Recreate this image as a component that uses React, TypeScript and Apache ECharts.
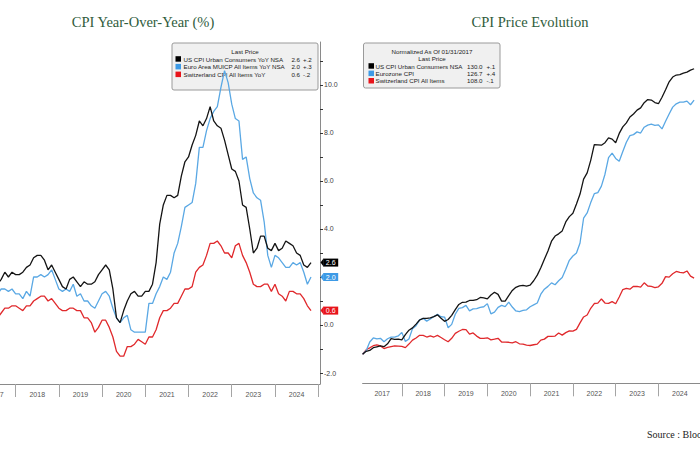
import React, { useEffect, useRef } from "react";
import * as echarts from "echarts";

// ---------- data ----------
const YEARS = ["2017", "2018", "2019", "2020", "2021", "2022", "2023", "2024"];

// Monthly YoY %, Jan 2017 .. Oct 2024
const US_YOY = [
  2.5, 2.7, 2.4, 2.2, 1.9, 1.6, 1.7, 1.9, 2.2, 2.0, 2.2, 2.1,
  2.1, 2.2, 2.4, 2.5, 2.8, 2.9, 2.9, 2.7, 2.3, 2.5, 2.2, 1.9,
  1.6, 1.5, 1.9, 2.0, 1.8, 1.6, 1.8, 1.7, 1.7, 1.8, 2.1, 2.3,
  2.5, 2.3, 1.5, 0.3, 0.1, 0.6, 1.0, 1.3, 1.4, 1.2, 1.2, 1.4,
  1.4, 1.7, 2.6, 4.2, 5.0, 5.4, 5.4, 5.3, 5.4, 6.2, 6.8, 7.0,
  7.5, 7.9, 8.5, 8.3, 8.6, 9.1, 8.5, 8.3, 8.2, 7.7, 7.1, 6.5,
  6.4, 6.0, 5.0, 4.9, 4.0, 3.0, 3.2, 3.7, 3.7, 3.2, 3.1, 3.4,
  3.1, 3.2, 3.5, 3.4, 3.3, 3.0, 2.9, 2.5, 2.4, 2.6,
];
const EU_YOY = [
  1.7, 2.0, 1.5, 1.9, 1.4, 1.3, 1.3, 1.5, 1.5, 1.4, 1.5, 1.3,
  1.3, 1.1, 1.4, 1.2, 2.0, 2.0, 2.1, 2.0, 2.1, 2.3, 1.9, 1.5,
  1.4, 1.5, 1.4, 1.7, 1.2, 1.3, 1.0, 1.0, 0.8, 0.7, 1.0, 1.3,
  1.4, 1.2, 0.7, 0.3, 0.1, 0.3, 0.4, -0.2, -0.3, -0.3, -0.3, -0.3,
  0.9, 0.9, 1.3, 1.6, 2.0, 1.9, 2.2, 3.0, 3.4, 4.1, 4.9, 5.0,
  5.1, 5.9, 7.4, 7.4, 8.1, 8.6, 8.9, 9.1, 9.9, 10.6, 10.1, 9.2,
  8.6, 8.5, 6.9, 7.0, 6.1, 5.5, 5.3, 5.2, 4.3, 2.9, 2.4, 2.9,
  2.8, 2.6, 2.4, 2.4, 2.6, 2.5, 2.6, 2.2, 1.7, 2.0,
];
const CH_YOY = [
  0.3, 0.6, 0.6, 0.4, 0.5, 0.2, 0.3, 0.5, 0.7, 0.7, 0.8, 0.8,
  0.7, 0.6, 0.8, 0.8, 1.0, 1.1, 1.2, 1.2, 1.0, 1.1, 0.9, 0.7,
  0.6, 0.6, 0.7, 0.7, 0.6, 0.6, 0.3, 0.3, 0.1, -0.3, -0.1, 0.2,
  0.2, -0.1, -0.5, -1.1, -1.3, -1.3, -0.9, -0.9, -0.8, -0.6, -0.7, -0.8,
  -0.5, -0.5, -0.2, 0.3, 0.6, 0.6, 0.7, 0.9, 0.9, 1.2, 1.5, 1.5,
  1.6, 2.2, 2.4, 2.5, 2.9, 3.4, 3.4, 3.5, 3.3, 3.0, 3.0, 2.8,
  3.3, 3.4, 2.9, 2.6, 2.2, 1.7, 1.6, 1.6, 1.7, 1.7, 1.4, 1.7,
  1.3, 1.2, 1.0, 1.4, 1.4, 1.3, 1.3, 1.1, 0.8, 0.6,
];

// Price levels normalized to 100 at 01/31/2017, Jan 2017 .. Oct 2024
const US_IDX = [
  100.0, 100.31, 100.4, 100.69, 100.78, 100.87, 100.8, 101.1, 101.64, 101.57, 101.58, 101.52,
  102.07, 102.53, 102.77, 103.17, 103.6, 103.77, 103.77, 103.83, 103.95, 104.14, 103.79, 103.46,
  103.65, 104.09, 104.68, 105.23, 105.46, 105.48, 105.65, 105.65, 105.73, 105.97, 105.92, 105.82,
  106.23, 106.52, 106.29, 105.58, 105.58, 106.16, 106.7, 107.03, 107.18, 107.23, 107.16, 107.26,
  107.72, 108.31, 109.08, 109.97, 110.85, 111.88, 112.42, 112.65, 112.96, 113.9, 114.46, 114.81,
  115.78, 116.83, 118.39, 119.05, 120.37, 122.02, 122.0, 121.96, 122.22, 122.72, 122.6, 122.22,
  123.2, 123.88, 124.3, 124.92, 125.24, 125.64, 125.88, 126.43, 126.75, 126.7, 126.44, 126.32,
  127.0, 127.79, 128.62, 129.12, 129.33, 129.38, 129.53, 129.63, 129.84, 129.99,
];
const EU_IDX = [
  100.0, 100.38, 101.29, 101.71, 101.61, 101.68, 101.32, 101.63, 101.8, 101.81, 101.92, 102.3,
  101.35, 101.6, 102.69, 103.0, 103.62, 103.77, 103.48, 103.7, 103.97, 104.19, 103.94, 103.91,
  102.78, 103.14, 104.2, 104.82, 104.9, 105.13, 104.56, 104.76, 104.79, 104.92, 104.99, 105.32,
  104.25, 104.43, 104.93, 105.13, 105.0, 105.47, 104.96, 104.55, 104.47, 104.6, 104.67, 104.99,
  105.19, 105.38, 106.31, 106.84, 107.13, 107.5, 107.3, 107.72, 108.07, 108.94, 109.87, 110.32,
  110.63, 111.69, 114.29, 114.84, 115.93, 116.87, 116.98, 117.66, 118.91, 120.65, 121.12, 120.57,
  120.27, 121.29, 122.27, 122.97, 123.07, 123.36, 123.24, 123.85, 124.07, 124.17, 124.05, 124.1,
  123.67, 124.48, 125.24, 125.96, 126.31, 126.48, 126.48, 126.59, 126.21, 126.7,
];
const CH_IDX = [
  100.0, 100.47, 100.67, 100.9, 100.98, 100.87, 100.6, 100.72, 100.8, 100.87, 100.85, 100.82,
  100.7, 101.07, 101.48, 101.71, 101.99, 101.98, 101.81, 101.93, 101.81, 101.98, 101.76, 101.53,
  101.31, 101.68, 102.19, 102.42, 102.6, 102.59, 102.12, 102.24, 101.91, 101.67, 101.66, 101.73,
  101.51, 101.58, 101.68, 101.29, 101.27, 101.26, 101.2, 101.32, 101.1, 101.06, 100.95, 100.92,
  101.0, 101.07, 101.48, 101.59, 101.88, 101.87, 101.91, 102.23, 102.01, 102.27, 102.46, 102.43,
  102.62, 103.29, 103.92, 104.13, 104.83, 105.33, 105.37, 105.81, 105.38, 105.34, 105.53, 105.3,
  106.01, 106.8, 106.93, 106.84, 107.14, 107.12, 107.06, 107.5, 107.17, 107.13, 107.01, 107.09,
  107.45, 108.15, 108.1, 108.45, 108.7, 108.6, 108.55, 108.75, 108.2, 108.0,
];

const YOY_NAMES = [
  "US CPI Urban Consumers YoY NSA",
  "Euro Area MUICP All Items YoY NSA",
  "Switzerland CPI All Items YoY",
];
const YOY_CHANGES = ["+.2", "+.3", "-.2"];
const IDX_NAMES = ["US CPI Urban Consumers NSA", "Eurozone CPI", "Switzerland CPI All Items"];
const IDX_CHANGES = ["+.1", "+.4", "-.1"];
// 2.0 is hidden behind the Euro-area last-value tag in the reference
const Y_LABELS = [-2, 0, 4, 6, 8, 10];
const Y_TICKS = [-2, -1, 0, 1, 2, 3, 4, 5, 6, 7, 8, 9, 10, 11];

const LINE_COLORS = ["#141414", "#5aa8e4", "#e0292c"];
const SWATCH_COLORS = ["#000000", "#3d9ae6", "#e8141b"];
const TITLE_COLOR = "#2f5c3c";
const UI_FONT = "Liberation Sans";

// the drawing canvas is wider than the page; its left part is cut off like in the reference
const OFF = 30;
const CANVAS_W = 745;

const toData = (arr: number[]) => arr.map((v, i) => [i + 1, v]);

export default function App() {
  const ref = useRef<HTMLDivElement>(null);

  useEffect(() => {
    if (!ref.current) return;
    const chart = echarts.init(ref.current, null, { renderer: "svg" });

    const yearTicks = YEARS.map((_, i) => 12 * (i + 1));
    const yearLabelPos = YEARS.map((_, i) => (i === 0 ? 6.5 : 12 * i + 6));
    const yearFmt = (v: number) => {
      const i = yearLabelPos.indexOf(v);
      return i >= 0 ? YEARS[i] : "";
    };

    const xAxisBase = (gridIndex: number) => ({
      type: "value",
      gridIndex,
      min: 1,
      max: 96.5,
      axisLine: { show: true, onZero: false, lineStyle: { color: "#8a8a8a", width: 1 } },
      axisTick: {
        show: true,
        customValues: yearTicks,
        length: 13,
        lineStyle: { color: "#a5a5a5", width: 1 },
      },
      axisLabel: {
        customValues: yearLabelPos,
        formatter: yearFmt,
        fontSize: 7,
        color: "#555",
        fontFamily: UI_FONT,
        margin: 7,
      },
      splitLine: { show: false },
    });

    const yoy = [US_YOY, EU_YOY, CH_YOY];
    const idx = [US_IDX, EU_IDX, CH_IDX];

    const leftSeries = yoy.map((arr, k) => ({
      type: "line",
      name: YOY_NAMES[k],
      xAxisIndex: 0,
      yAxisIndex: 0,
      data: toData(arr),
      showSymbol: false,
      lineStyle: { color: LINE_COLORS[k], width: 1.3 },
      itemStyle: { color: LINE_COLORS[k] },
      z: 3 + (2 - k),
    }));

    const rightSeries = idx.map((arr, k) => ({
      type: "line",
      name: IDX_NAMES[k],
      xAxisIndex: 1,
      yAxisIndex: 1,
      data: toData(arr),
      showSymbol: false,
      lineStyle: { color: LINE_COLORS[k], width: 1.3 },
      itemStyle: { color: LINE_COLORS[k] },
      z: 3 + (2 - k),
    }));

    const txt = (x: number, y: number, text: string, extra: any = {}) => ({
      type: "text",
      x: x + OFF,
      y,
      style: {
        text,
        fontSize: 6.2,
        fontFamily: UI_FONT,
        fill: "#222",
        textVerticalAlign: "middle",
        ...extra,
      },
    });

    const leftLegendRows: any[] = [];
    YOY_NAMES.forEach((n, k) => {
      const y = 59 + k * 7.7;
      const last = yoy[k][yoy[k].length - 1];
      leftLegendRows.push({
        type: "rect",
        shape: { x: 175.5 + OFF, y: y - 2.8, width: 5.5, height: 5.5 },
        style: { fill: SWATCH_COLORS[k] },
      });
      leftLegendRows.push(txt(183.5, y, n));
      leftLegendRows.push(txt(300, y, last.toFixed(1), { textAlign: "right" }));
      leftLegendRows.push(txt(303, y, YOY_CHANGES[k]));
    });

    const rightLegendRows: any[] = [];
    IDX_NAMES.forEach((n, k) => {
      const y = 66 + k * 7.4;
      const last = idx[k][idx[k].length - 1];
      rightLegendRows.push({
        type: "rect",
        shape: { x: 368.5 + OFF, y: y - 2.8, width: 5.5, height: 5.5 },
        style: { fill: SWATCH_COLORS[k] },
      });
      rightLegendRows.push(txt(375.5, y, n));
      rightLegendRows.push(txt(482.5, y, last.toFixed(1), { textAlign: "right" }));
      rightLegendRows.push(txt(486.5, y, IDX_CHANGES[k]));
    });

    const titleStyle = {
      fontSize: 14.5,
      fontFamily: "Liberation Serif",
      fill: TITLE_COLOR,
      textAlign: "center",
      textVerticalAlign: "middle",
    };

    const graphics: any[] = [
      { type: "text", x: 143 + OFF, y: 22, style: { text: "CPI Year-Over-Year (%)", ...titleStyle } },
      { type: "text", x: 530 + OFF, y: 22, style: { text: "CPI Price Evolution", ...titleStyle } },
      {
        type: "text",
        x: 647 + OFF,
        y: 434,
        style: {
          text: "Source : Bloomberg",
          fontSize: 10,
          fontFamily: "Liberation Serif",
          fill: "#222",
          textVerticalAlign: "middle",
        },
      },
      {
        type: "group",
        z: 0,
        children: [
          {
            type: "rect",
            shape: { x: 172 + OFF, y: 43, width: 146, height: 47, r: 2 },
            style: { fill: "#f0f0f0", stroke: "#9a9a9a", lineWidth: 1 },
          },
          txt(245, 51.5, "Last Price", { textAlign: "center" }),
          ...leftLegendRows,
        ],
      },
      {
        type: "group",
        z: 0,
        children: [
          {
            type: "rect",
            shape: { x: 363.5 + OFF, y: 43, width: 136.5, height: 45, r: 2 },
            style: { fill: "#f0f0f0", stroke: "#9a9a9a", lineWidth: 1 },
          },
          txt(432, 51, "Normalized As Of 01/31/2017", { textAlign: "center" }),
          txt(432, 58.5, "Last Price", { textAlign: "center" }),
          ...rightLegendRows,
        ],
      },
    ];

    chart.setOption({
      animation: false,
      backgroundColor: "#ffffff",
      grid: [
        { left: -24 + OFF, right: CANVAS_W - (320 + OFF), top: 42, bottom: 66 },
        { left: 362.6 + OFF, right: CANVAS_W - (703 + OFF), top: 40, bottom: 66.7 },
      ],
      xAxis: [xAxisBase(0), xAxisBase(1)],
      yAxis: [
        {
          type: "value",
          gridIndex: 0,
          position: "right",
          min: -2.458,
          max: 11.79,
          axisLine: { show: true, onZero: false, lineStyle: { color: "#8a8a8a", width: 1 } },
          axisTick: {
            show: true,
            customValues: Y_TICKS,
            length: 3,
            lineStyle: { color: "#333" },
          },
          axisLabel: {
            customValues: Y_LABELS,
            formatter: (v: number) => v.toFixed(1),
            fontSize: 7,
            color: "#444",
            fontFamily: UI_FONT,
            margin: 4,
          },
          splitLine: { show: false },
        },
        {
          type: "value",
          gridIndex: 1,
          min: 96.95,
          max: 133.01,
          show: false,
          splitLine: { show: false },
        },
      ],
      graphic: graphics,
      series: [...leftSeries, ...rightSeries],
    });

    // last-value tags on the right axis of the left panel
    const axisX = chart.convertToPixel({ xAxisIndex: 0 }, 96.5) as number;
    const tags: any[] = [];
    yoy.forEach((arr, k) => {
      const last = arr[arr.length - 1];
      const y = chart.convertToPixel({ yAxisIndex: 0 }, last) as number;
      tags.push({
        type: "polygon",
        z: 10,
        shape: {
          points: [
            [axisX + 0.5, y],
            [axisX + 3.5, y - 4],
            [axisX + 3.5, y + 4],
          ],
        },
        style: { fill: SWATCH_COLORS[k] },
      });
      tags.push({
        type: "rect",
        z: 10,
        shape: { x: axisX + 3.2, y: y - 4, width: 15, height: 8 },
        style: { fill: SWATCH_COLORS[k] },
      });
      tags.push({
        type: "text",
        z: 11,
        x: axisX + 10.7,
        y: y + 0.3,
        style: {
          text: last.toFixed(1),
          fontSize: 7,
          fontFamily: UI_FONT,
          fill: "#ffffff",
          textAlign: "center",
          textVerticalAlign: "middle",
        },
      });
    });
    chart.setOption({ graphic: [...graphics, ...tags] });

    return () => chart.dispose();
  }, []);

  return (
    <div style={{ position: "absolute", left: 0, top: 0, width: 700, height: 450, overflow: "hidden" }}>
      <div
        ref={ref}
        style={{ position: "absolute", left: -OFF, top: 0, width: CANVAS_W, height: 450 }}
      />
    </div>
  );
}
